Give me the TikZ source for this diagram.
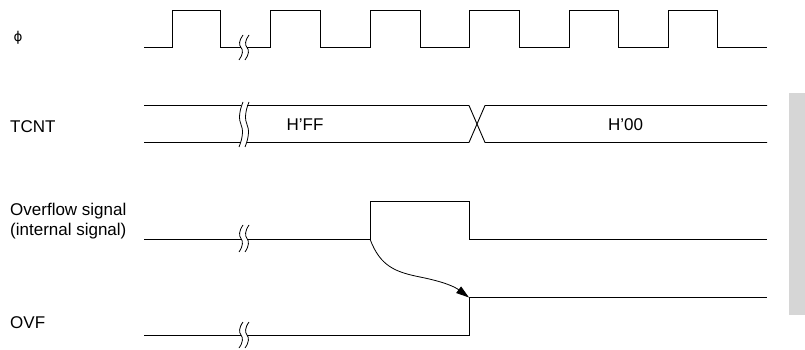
\documentclass[tikz,border=0pt]{standalone}
\usepackage{fontspec}
\setmainfont{Liberation Sans}
\newfontfamily\symfont{DejaVu Sans}
\usetikzlibrary{arrows.meta}
\definecolor{sidebar}{RGB}{214,214,214}
\tikzset{
  sig/.style={line width=0.9pt, line join=miter},
  lbl/.style={inner sep=0pt, font=\fontsize{17}{19.5}\selectfont},
  val/.style={inner sep=0pt, font=\fontsize{17}{19.5}\selectfont},
  brkline/.style={line width=0.8pt},
  causal/.style={line width=0.8pt, -{Triangle[length=13pt,width=8pt]}}
}
% break mark pair: x, y centre, half height
\newcommand\brkpair[3]{%
  \foreach \bx in {#1-3, #1+3}{%
    \draw[brkline] (\bx+2,#2-#3) .. controls (\bx-2.2,#2-#3*0.55) and (\bx-2.2,#2-#3*0.2) .. (\bx,#2)
      .. controls (\bx+2.2,#2+#3*0.2) and (\bx+2.2,#2+#3*0.55) .. (\bx-2,#2+#3);
  }%
}
\begin{document}
\begin{tikzpicture}[x=1pt,y=-1pt]
\useasboundingbox (0,0) rectangle (805,350);
\fill[sidebar] (789,93) rectangle (805,315);

% labels
\node[lbl, font=\fontsize{13.5}{15}\selectfont\symfont] (lphi) at (18,38) {ϕ};
\node[lbl, anchor=base west] (ltcnt) at (10,132) {TCNT};
\node[lbl, anchor=base west] (lovs) at (10,215.7) {Overflow signal};
\node[lbl, anchor=base west] (lovs2) at (10,235.2) {(internal signal)};
\node[lbl, anchor=base west] (lovf) at (10,328.3) {OVF};
\node[val, anchor=base] (vff) at (305,131) {H'FF};
\node[val, anchor=base] (v00) at (625.5,131) {H'00};

% clock
\draw[sig] (144,47) -- (172,47) -- (172,10.5) -- (220,10.5) -- (220,47) -- (241,47);
\draw[sig] (247,47) -- (270,47) -- (270,10.5) -- (320,10.5) -- (320,47)
  -- (370,47) -- (370,10.5) -- (420,10.5) -- (420,47)
  -- (469,47) -- (469,10.5) -- (519,10.5) -- (519,47)
  -- (569,47) -- (569,10.5) -- (618,10.5) -- (618,47)
  -- (668,47) -- (668,10.5) -- (717,10.5) -- (717,47) -- (767,47);
\brkpair{244}{47.5}{12.5}

% TCNT
\draw[sig] (144,105.5) -- (241,105.5);
\draw[sig] (144,142.5) -- (241,142.5);
\draw[sig] (247,105.5) -- (469,105.5) -- (485,142.5) -- (767,142.5);
\draw[sig] (247,142.5) -- (469,142.5) -- (485,105.5) -- (767,105.5);
\brkpair{244}{124.5}{22.5}

% Overflow signal
\coordinate (ovsrise) at (370,239);
\draw[sig] (144,239) -- (241,239);
\draw[sig] (247,239) -- (ovsrise) -- (370,201) -- (469,201) -- (469,239) -- (767,239);
\brkpair{244}{238.5}{13.5}

% OVF
\coordinate (ovfrise) at (469,297.5);
\draw[sig] (144,335) -- (241,335);
\draw[sig] (247,335) -- (469,335) -- (ovfrise) -- (767,297.5);
\brkpair{244}{335}{13}

% causal arrow
\draw[causal] (ovsrise) .. controls (380,266) and (395,272) .. (420,277)
  .. controls (445,282) and (455,287) .. (ovfrise);
\end{tikzpicture}
\end{document}
